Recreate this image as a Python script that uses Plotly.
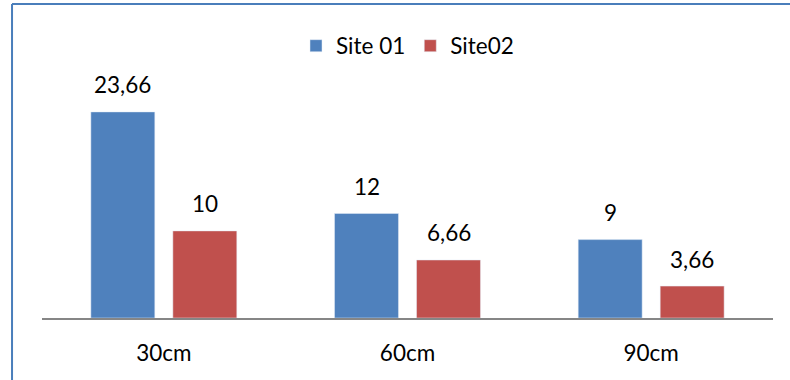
import plotly.graph_objects as go

categories = ["30cm", "60cm", "90cm"]
site01 = [23.66, 12, 9]
site02 = [10, 6.66, 3.66]
labels01 = ["23,66", "12", "9"]
labels02 = ["10", "6,66", "3,66"]

FONT = "Lato"
fig = go.Figure()
fig.add_trace(go.Bar(name="Site 01", x=categories, y=site01, marker_color="#4F81BD"))
fig.add_trace(go.Bar(name="Site02", x=categories, y=site02, marker_color="#C0504D"))

for c, v, t in zip(categories, site01, labels01):
    fig.add_annotation(x=c, y=v, text=t, showarrow=False, xshift=-41, yshift=27,
                       yanchor="middle", font=dict(family=FONT, size=22.5, color="black"))
for c, v, t in zip(categories, site02, labels02):
    fig.add_annotation(x=c, y=v, text=t, showarrow=False, xshift=41, yshift=27,
                       yanchor="middle", font=dict(family=FONT, size=22.5, color="black"))

# outer border (top and left visible)
fig.add_shape(type="line", xref="paper", yref="paper", x0=-0.041, x1=1.05, y0=1.217, y1=1.217,
              line=dict(color="#4a7ebb", width=2))
fig.add_shape(type="line", xref="paper", yref="paper", x0=-0.041, x1=-0.041, y0=1.217, y1=-0.3,
              line=dict(color="#4a7ebb", width=2))

fig.update_layout(
    width=790, height=380,
    margin=dict(l=42, r=17, t=60, b=62),
    paper_bgcolor="white", plot_bgcolor="white",
    barmode="group", bargap=0.327, bargroupgap=0.22,
    font=dict(family=FONT, size=22.5, color="black"),
    legend=dict(orientation="h", x=0.5, xanchor="center", y=1.054, yanchor="middle",
                font=dict(family=FONT, size=22.5, color="black")),
    xaxis=dict(showline=True, linecolor="#868686", linewidth=2, ticks="",
               ticklabelstandoff=14,
               tickfont=dict(family=FONT, size=22.5, color="black"), showgrid=False),
    yaxis=dict(range=[0, 29.62], visible=False, showgrid=False),
)
fig.write_html("out.html")
